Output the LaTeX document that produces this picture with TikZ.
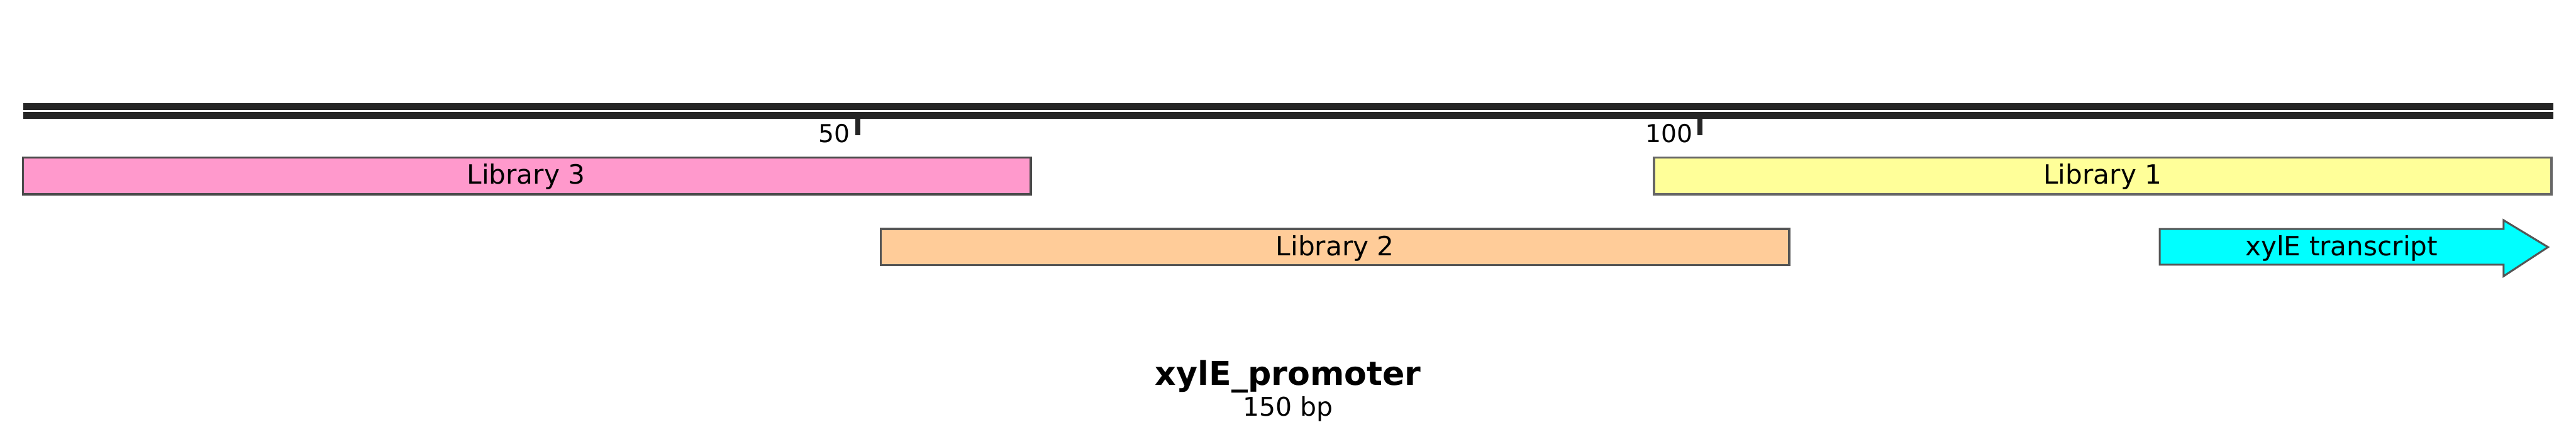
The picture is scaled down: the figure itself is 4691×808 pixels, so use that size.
\documentclass[tikz,border=0pt]{standalone}
\usepackage{fontspec}
\setmainfont{DejaVu Sans}
\definecolor{bbcol}{HTML}{252525}
\definecolor{libpink}{HTML}{FF99CC}
\definecolor{libyellow}{HTML}{FFFF99}
\definecolor{liborange}{HTML}{FFCC99}
\definecolor{tcyan}{HTML}{00FFFF}
\definecolor{edgeA}{HTML}{4A4A4A}
\definecolor{edgeB}{HTML}{555555}
\definecolor{edgeC}{HTML}{666666}
\tikzset{
  px/.style={x=0.2mm,y=-0.2mm},
  backbone/.style={draw=bbcol,line width=2.5mm},
  tickmark/.style={draw=bbcol,line width=1.8mm},
  ticklabel/.style={anchor=base east,inner sep=0pt,font=\fontsize{25.6pt}{28pt}\selectfont},
  libbox/.style={draw,line width=0.8mm,rectangle,inner sep=0pt},
  liblabel/.style={anchor=base,inner sep=0pt,font=\fontsize{27.5pt}{30pt}\selectfont},
  titlelabel/.style={anchor=base,inner sep=0pt,font=\fontsize{34pt}{37pt}\selectfont\bfseries},
  sublabel/.style={anchor=base,inner sep=0pt,font=\fontsize{26.7pt}{30pt}\selectfont},
}
\begin{document}
\begin{tikzpicture}[px]
\useasboundingbox (0,0) rectangle (4691,808);
% backbone
\coordinate (bbAL) at (42,194);
\coordinate (bbAR) at (4650,194);
\coordinate (bbBL) at (42,210.5);
\coordinate (bbBR) at (4650,210.5);
\draw[backbone,line width=12*0.2mm] (bbAL) -- (bbAR);
\draw[backbone,line width=13*0.2mm] (bbBL) -- (bbBR);
% ticks
\coordinate (t50a) at (1562.5,217);
\coordinate (t50b) at (1562.5,246);
\coordinate (t100a) at (3096,217);
\coordinate (t100b) at (3096,246);
\draw[tickmark,line width=9*0.2mm] (t50a) -- (t50b);
\draw[tickmark,line width=9*0.2mm] (t100a) -- (t100b);
\node[ticklabel] (l50) at (1548,259) {50};
\node[ticklabel] (l100) at (3083,259) {100};
% libraries
\node[libbox,draw=edgeA,fill=libpink,minimum width={1835*0.2mm},minimum height={67*0.2mm}] (lib3) at (959.5,320.5) {};
\node[liblabel] (lib3t) at (958,335) {Library 3};
\node[libbox,draw=edgeC,fill=libyellow,minimum width={1634*0.2mm},minimum height={67*0.2mm}] (lib1) at (3829,320.5) {};
\node[liblabel] (lib1t) at (3829,335) {Library 1};
\node[libbox,draw=edgeB,fill=liborange,minimum width={1654*0.2mm},minimum height={66*0.2mm}] (lib2) at (2431,450) {};
\node[liblabel] (lib2t) at (2431,465) {Library 2};
% transcript arrow
\draw[edgeB,fill=tcyan,line width=0.7mm,line join=miter]
  (3933,417) -- (4559,417) -- (4559,401) -- (4640,450) -- (4559,503) -- (4559,482) -- (3933,482) -- cycle;
\node[liblabel] (xyl) at (4264,466) {xylE transcript};
% title
\node[titlelabel] (title) at (2345.5,702) {xylE\_promoter};
\node[sublabel] (len) at (2345.5,758) {150 bp};
\end{tikzpicture}
\end{document}
